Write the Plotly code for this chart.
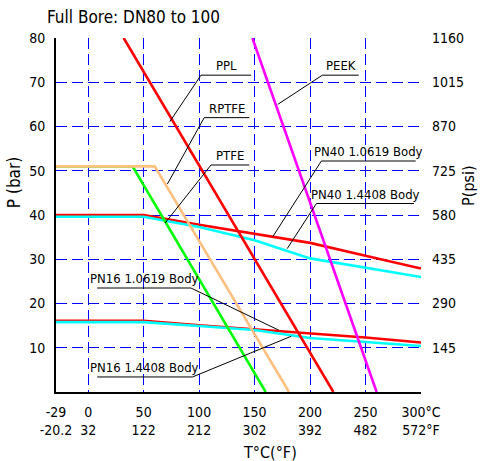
import plotly.graph_objects as go

# ---------------- data ----------------
t_ppl = [32, 221]
p_ppl = [80, 0]

t_peek = [148, 260]
p_peek = [80, 0]

t_ptfe = [-29, 40, 160]
p_ptfe = [51, 51, 0]

t_rptfe = [-29, 60, 181]
p_rptfe = [51, 51, 0]

t_pn = [-29, 50, 100, 150, 200, 250, 300]
p_pn40_10619 = [40, 40, 37.8, 35.8, 33.7, 30.8, 27.9]
p_pn40_14408 = [39.6, 39.6, 37.3, 34.3, 30.2, 28.1, 26.0]
p_pn16_10619 = [16.1, 16.1, 15.1, 14.2, 13.3, 12.3, 11.2]
p_pn16_14408 = [15.8, 15.8, 14.9, 14.0, 12.2, 11.3, 10.4]

x_tickvals = [-29, 0, 50, 100, 150, 200, 250, 300]
x_tick_c = ["-29", "0", "50", "100", "150", "200", "250", "300°C"]
x_tick_f = ["-20.2", "32", "122", "212", "302", "392", "482", "572°F"]

y_tickvals = [10, 20, 30, 40, 50, 60, 70, 80]
psi_tickvals = [145, 290, 435, 580, 725, 870, 1015, 1160]

label_text = ["PPL", "RPTFE", "PTFE", "PEEK",
              "PN40 1.0619 Body", "PN40 1.4408 Body",
              "PN16 1.0619 Body", "PN16 1.4408 Body"]
label_tip_t = [73.6, 71.4, 69.4, 170.9, 166.4, 179.4, 171.6, 183.0]
label_tip_p = [61.1, 47.0, 38.2, 65.0, 35.1, 32.4, 14.0, 12.6]
label_u0 = [101.7, 104.6, 110.7, 211.1, 210.2, 205.7, 92.6, 94.1]
label_u1 = [146.9, 145.3, 145.3, 243.9, 295.2, 293.7, 8.1, 8.1]
label_up = [71.6, 62.0, 51.3, 71.6, 52.2, 42.6, 23.5, 3.4]

FONT = "Liberation Sans Narrow, DejaVu Sans Condensed, Arial Narrow, sans-serif"

fig = go.Figure()

RED = "#FF0000"
CYAN = "#00FFFF"
GREEN = "#00FF00"
ORANGE = "#FFC080"
MAGENTA = "#FF00FF"
LW = 2.6

def add_line(x, y, color):
    fig.add_trace(go.Scatter(x=x, y=y, mode="lines",
                             line=dict(color=color, width=LW),
                             hoverinfo="skip", showlegend=False))

add_line(t_pn, p_pn40_10619, RED)
add_line(t_pn, p_pn40_14408, CYAN)
add_line(t_pn, p_pn16_10619, RED)
add_line(t_pn, p_pn16_14408, CYAN)
add_line(t_ptfe, p_ptfe, GREEN)
add_line(t_rptfe, p_rptfe, ORANGE)
add_line(t_ppl, p_ppl, RED)
add_line(t_peek, p_peek, MAGENTA)

# leader lines and labels
for txt, tt, tp, u0, u1, up in zip(label_text, label_tip_t, label_tip_p,
                                   label_u0, label_u1, label_up):
    fig.add_trace(go.Scatter(x=[tt, u0, u1], y=[tp, up, up], mode="lines",
                             line=dict(color="black", width=1),
                             hoverinfo="skip", showlegend=False))
    fig.add_annotation(x=(u0 + u1) / 2, y=up, text=txt, showarrow=False,
                       xanchor="center", yanchor="bottom", yshift=0,
                       font=dict(family=FONT, size=13, color="black"))

# invisible trace for psi axis
fig.add_trace(go.Scatter(x=[None], y=[None], yaxis="y2", showlegend=False))

GRID = "#0000FF"
fig.update_layout(
    width=481, height=461,
    margin=dict(l=56, r=60, t=38, b=69),
    paper_bgcolor="white", plot_bgcolor="white",
    font=dict(family=FONT, size=14, color="black"),
    xaxis=dict(range=[-29, 300], tickvals=x_tickvals,
               ticktext=[c + "<br>" + f for c, f in zip(x_tick_c, x_tick_f)],
               showgrid=True, gridcolor=GRID, gridwidth=1.4, griddash="11px,5px",
               showline=True, linecolor="black", linewidth=2,
               zeroline=False, ticks="", ticklabelstandoff=6, automargin=False),
    yaxis=dict(range=[0, 80], tickvals=y_tickvals,
               showgrid=True, gridcolor=GRID, gridwidth=1.4, griddash="11px,5px",
               showline=True, linecolor="black", linewidth=2,
               zeroline=False, ticks="", ticklabelstandoff=6, automargin=False),
    yaxis2=dict(range=[0, 1160], tickvals=psi_tickvals, overlaying="y",
                side="right", showgrid=False, showline=False, zeroline=False,
                ticks="", ticklabelstandoff=10, automargin=False),
)

fig.add_annotation(xref="paper", yref="paper", x=-0.030, y=1.058,
                   text="Full Bore: DN80 to 100", showarrow=False,
                   xanchor="left", yanchor="middle",
                   font=dict(family=FONT, size=17))
fig.add_annotation(xref="paper", yref="paper", x=-0.115, y=0.59,
                   text="P (bar)", showarrow=False, textangle=-90,
                   xanchor="center", yanchor="middle",
                   font=dict(family=FONT, size=17))
fig.add_annotation(xref="paper", yref="paper", x=1.1315, y=0.585,
                   text="P(psi)", showarrow=False, textangle=-90,
                   xanchor="center", yanchor="middle",
                   font=dict(family=FONT, size=16))
fig.add_annotation(xref="paper", yref="paper", x=0.586, y=-0.1695,
                   text="T°C(°F)", showarrow=False,
                   xanchor="center", yanchor="middle",
                   font=dict(family=FONT, size=16))

fig.write_html("out.html",
               config={"displayModeBar": False},
               post_script="document.body.style.margin='0px';"
                           "document.body.style.padding='0px';")
